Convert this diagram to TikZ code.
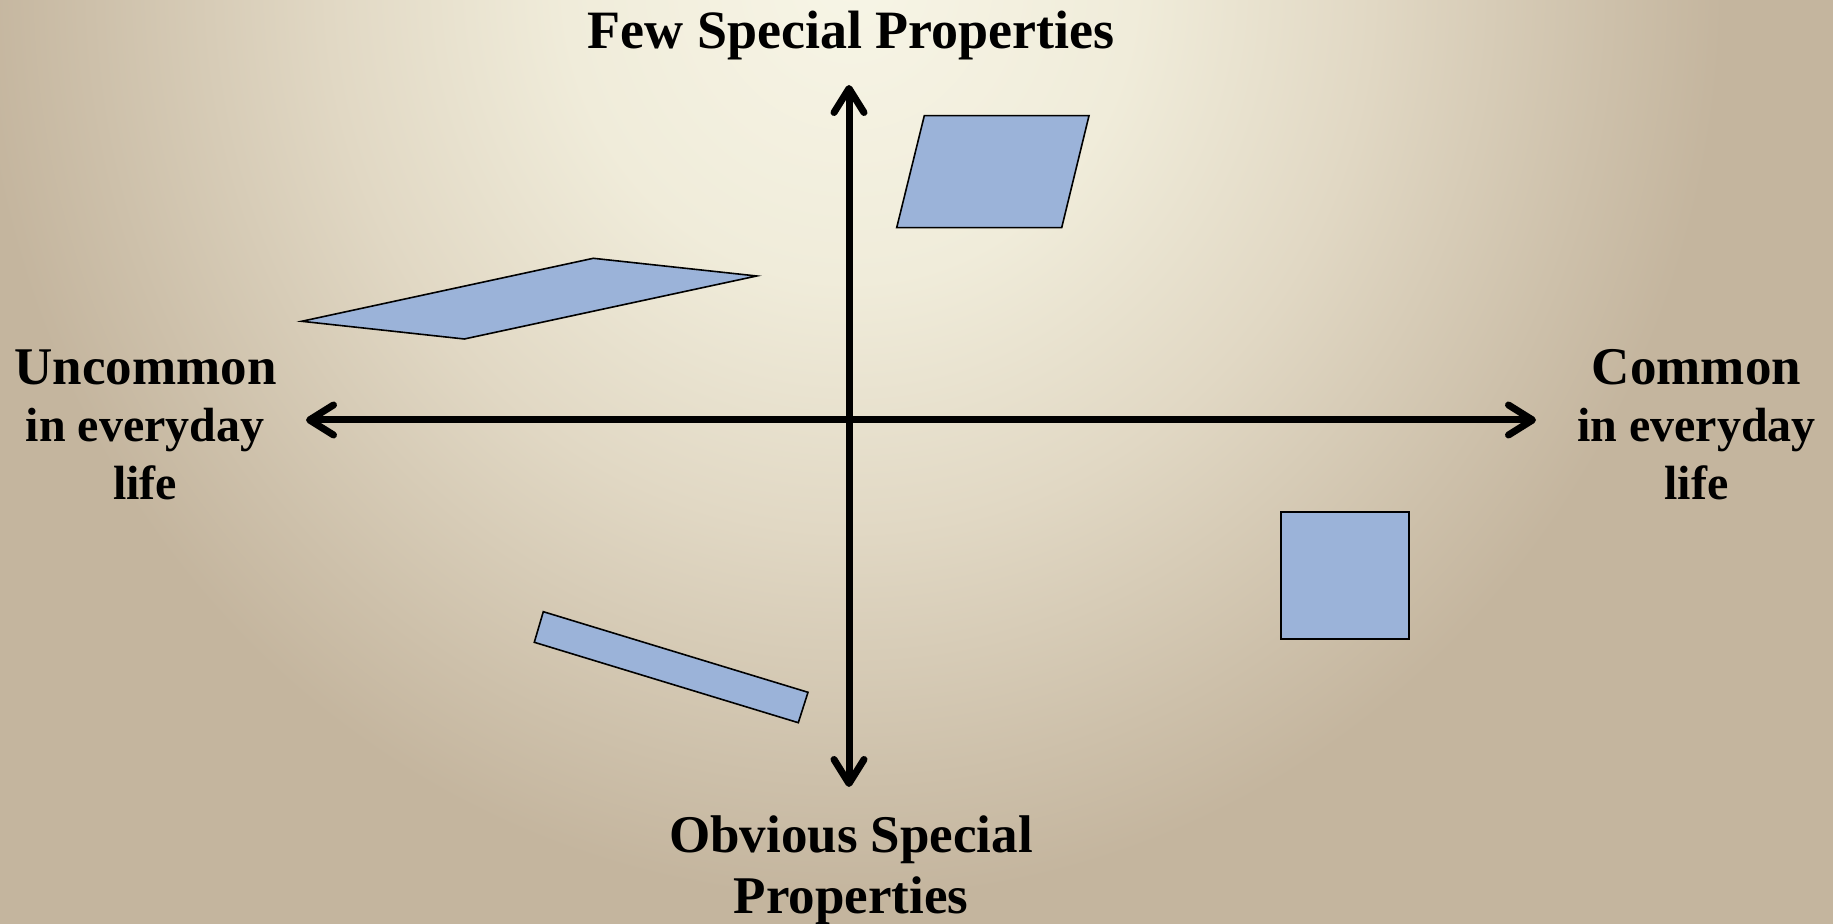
\documentclass[tikz,border=0pt]{standalone}
\usepackage{fontspec}
\setmainfont{Liberation Serif}
\usetikzlibrary{arrows.meta}
\definecolor{bgA}{RGB}{247,245,230}
\definecolor{bgB}{RGB}{240,236,218}
\definecolor{bgC}{RGB}{225,216,196}
\definecolor{bgE}{RGB}{205,192,170}
\definecolor{bgD}{RGB}{196,181,158}
\definecolor{shapefill}{RGB}{155,179,217}
\pgfdeclareradialshading{bgshade}{\pgfpoint{0bp}{0bp}}{color(0bp)=(bgA); color(15bp)=(bgB); color(27.5bp)=(bgC); color(40bp)=(bgE); color(46bp)=(bgD); color(50bp)=(bgD)}
\tikzset{
  shapebox/.style={fill=shapefill, draw=black, line width=0.8pt, line join=miter},
  lbl/.style={font=\fontsize{26.5}{29}\selectfont\bfseries, anchor=base, inner sep=0pt, text=black},
  titlelbl/.style={lbl, font=\fontsize{27}{30}\selectfont\bfseries},
  sublbl/.style={lbl, font=\fontsize{24}{27}\selectfont\bfseries},
  axis/.style={line width=3.5pt, >={Straight Barb[length=12pt,width=15pt,round]}, <->}
}
\begin{document}
\begin{tikzpicture}[x=0.5pt,y=-0.5pt]
\useasboundingbox (0,0) rectangle (1833,924);
\fill[bgD] (0,0) rectangle (1833,924);
\begin{scope}
\clip (0,0) rectangle (1833,924);
\begin{scope}[shift={(850,-20)}]
\pgftransformxscale{9.465}
\pgftransformyscale{9.963}
\pgflowlevelsynccm
\pgftext{\pgfuseshading{bgshade}}
\end{scope}
\end{scope}
% shapes
\draw[shapebox] (301.7,321.3) -- (593.3,258.3) -- (756.7,276) -- (464.3,339) -- cycle;
\draw[shapebox] (924.3,115.7) -- (1089,115.7) -- (1061.7,227.7) -- (896.7,227.7) -- cycle;
\draw[shapebox] (543.3,611.7) -- (808,692.3) -- (798.3,722.7) -- (534.3,642.3) -- cycle;
\draw[shapebox] (1281,512.3) rectangle (1409,639.3);
% axes
\coordinate (N) at (849,85);
\coordinate (S) at (849,787);
\coordinate (W) at (306,420);
\coordinate (E) at (1536,420);
\draw[axis] (N) -- (S);
\draw[axis] (W) -- (E);
% labels
\node[titlelbl] (top) at (851,49) {Few Special Properties};
\node[lbl] (bot1) at (851,852.7) {Obvious Special};
\node[lbl] (bot2) at (851,913.3) {Properties};
\node[lbl] (l1) at (145.5,384.3) {Uncommon};
\node[sublbl] (l2) at (145,442) {in everyday};
\node[sublbl] (l3) at (145,500) {life};
\node[lbl] (r1) at (1696.5,384.3) {Common};
\node[sublbl] (r2) at (1696.5,442) {in everyday};
\node[sublbl] (r3) at (1696.5,500) {life};
\end{tikzpicture}
\end{document}
